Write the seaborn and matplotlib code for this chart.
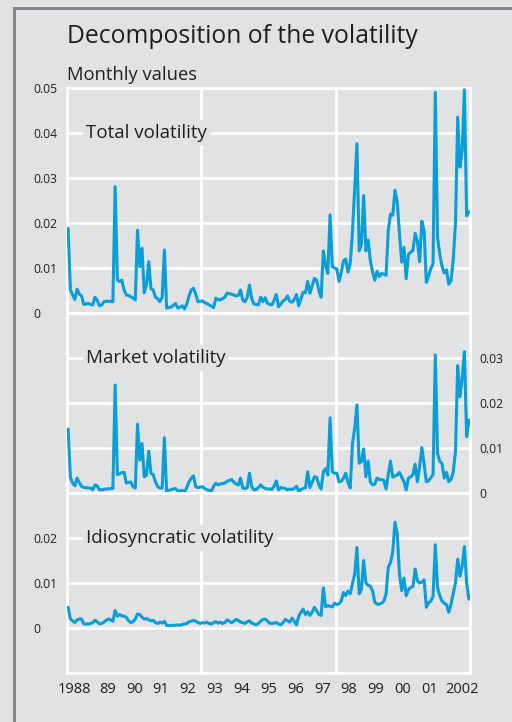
import numpy as np
import pandas as pd
import matplotlib.pyplot as plt
import seaborn as sns
from matplotlib.patches import Rectangle
from matplotlib.ticker import MultipleLocator

# monthly values Jan 1988 - Dec 2002, in units of 0.001 (one row per year)
total_vol = [
    18.8, 5.2, 4.0, 3.0, 5.3, 4.2, 3.8, 1.9, 2.0, 2.1, 1.9, 1.8,
    3.5, 2.8, 1.6, 1.8, 2.5, 2.6, 2.6, 2.6, 2.5, 28.1, 7.3, 7.0,
    7.3, 5.1, 4.0, 3.9, 3.6, 3.3, 2.9, 18.4, 10.3, 14.4, 4.5, 6.2,
    11.4, 5.4, 5.1, 3.5, 3.2, 2.5, 3.5, 14.0, 1.1, 1.2, 1.3, 1.7,
    2.1, 1.1, 1.3, 1.6, 0.9, 2.0, 3.8, 5.1, 5.5, 4.2, 2.5, 2.6,
    2.7, 2.3, 2.1, 1.8, 1.5, 1.2, 3.3, 3.0, 2.9, 3.2, 3.5, 4.4,
    4.3, 4.2, 4.0, 3.8, 3.9, 5.1, 2.9, 2.5, 3.5, 6.2, 3.2, 2.0,
    1.9, 1.8, 3.5, 2.5, 3.4, 2.2, 1.9, 1.8, 2.8, 4.1, 1.4, 2.0,
    2.7, 3.0, 3.8, 2.6, 2.4, 3.0, 4.1, 1.6, 3.2, 4.6, 4.5, 7.0,
    4.4, 6.0, 7.7, 7.3, 5.0, 3.5, 13.8, 10.5, 8.8, 21.8, 10.3, 10.0,
    9.8, 7.0, 9.0, 11.6, 12.0, 9.1, 11.0, 18.0, 28.0, 37.6, 13.8, 15.3,
    26.1, 13.8, 16.2, 11.6, 9.1, 7.3, 9.3, 8.1, 8.8, 8.6, 8.4, 18.3,
    22.0, 21.7, 27.3, 24.7, 17.6, 11.3, 14.6, 7.6, 13.0, 13.5, 13.9, 17.7,
    16.0, 11.4, 20.4, 18.3, 6.8, 8.3, 9.8, 11.0, 49.0, 16.8, 13.0, 10.4,
    8.9, 9.6, 6.4, 7.1, 11.8, 19.8, 43.5, 32.4, 36.1, 49.6, 21.6, 22.5,
]
market_vol = [
    14.2, 3.5, 2.2, 1.6, 3.3, 2.3, 1.5, 1.2, 1.2, 1.1, 1.1, 0.7,
    1.8, 1.6, 0.7, 0.7, 0.8, 0.9, 0.9, 1.0, 1.0, 24.0, 4.1, 4.3,
    4.5, 4.6, 2.2, 2.4, 2.4, 1.4, 1.1, 15.3, 7.3, 11.0, 3.6, 4.0,
    9.3, 4.4, 4.1, 2.5, 1.4, 1.1, 1.1, 12.3, 0.3, 0.6, 0.7, 0.9,
    1.0, 0.4, 0.5, 0.6, 0.2, 1.2, 2.5, 3.3, 3.8, 1.4, 1.2, 1.3,
    1.4, 1.0, 0.7, 0.6, 0.4, 1.5, 2.2, 1.8, 2.0, 2.1, 2.2, 2.6,
    2.8, 3.0, 2.4, 2.0, 1.8, 3.3, 1.1, 1.0, 1.2, 4.4, 1.4, 0.7,
    0.8, 1.2, 1.8, 1.3, 1.0, 0.9, 0.9, 0.8, 1.5, 2.7, 0.7, 1.2,
    1.1, 1.0, 0.7, 0.9, 0.8, 1.0, 1.5, 0.4, 0.8, 1.0, 1.2, 4.7,
    1.2, 2.4, 3.6, 3.5, 1.8, 0.9, 4.7, 5.4, 4.0, 16.7, 4.7, 4.4,
    4.4, 2.5, 2.6, 3.3, 4.4, 2.4, 1.1, 11.0, 14.4, 19.6, 6.6, 7.0,
    9.8, 3.6, 7.1, 2.4, 1.8, 2.0, 3.3, 3.0, 3.0, 2.8, 0.9, 4.1,
    7.1, 3.5, 3.8, 4.0, 4.6, 3.5, 2.5, 0.7, 3.3, 3.6, 4.1, 6.4,
    2.5, 5.9, 10.1, 6.5, 2.5, 2.7, 3.4, 4.1, 30.7, 8.8, 7.0, 6.6,
    3.3, 4.6, 2.5, 3.0, 4.6, 9.1, 28.3, 21.4, 25.5, 31.4, 12.5, 16.2,
]
idio_vol = [
    4.6, 2.0, 1.6, 1.2, 1.8, 2.0, 2.0, 0.9, 0.9, 0.9, 1.0, 1.2,
    1.7, 1.4, 0.9, 1.0, 1.3, 1.7, 2.0, 1.8, 1.5, 3.9, 2.6, 3.0,
    2.7, 2.6, 2.4, 1.6, 1.2, 1.4, 2.0, 3.1, 3.0, 2.4, 2.0, 2.1,
    1.8, 1.6, 1.7, 1.2, 1.0, 1.3, 1.1, 1.5, 0.6, 0.5, 0.6, 0.6,
    0.6, 0.7, 0.6, 0.8, 0.9, 1.0, 1.4, 1.5, 1.7, 1.5, 1.2, 1.0,
    1.2, 1.1, 1.3, 1.0, 0.9, 1.2, 1.4, 1.1, 1.3, 1.0, 1.2, 1.8,
    1.5, 1.2, 1.5, 1.9, 1.7, 1.3, 1.2, 1.0, 1.4, 1.6, 1.1, 0.9,
    0.7, 1.0, 1.5, 1.9, 2.0, 1.6, 1.1, 1.0, 1.1, 1.2, 0.9, 0.7,
    1.2, 1.9, 1.6, 1.3, 2.2, 1.5, 0.7, 2.6, 3.5, 4.2, 3.0, 3.6,
    2.8, 3.5, 4.6, 3.8, 3.0, 2.8, 8.9, 4.7, 5.0, 4.8, 4.7, 5.5,
    5.2, 5.4, 6.0, 7.9, 7.2, 8.2, 7.6, 9.8, 12.0, 17.9, 7.6, 8.6,
    15.0, 10.0, 9.5, 9.3, 8.2, 5.7, 5.3, 5.3, 5.5, 6.0, 7.5, 13.5,
    14.5, 17.0, 23.5, 21.0, 12.0, 8.3, 11.1, 7.2, 8.5, 9.0, 9.2, 13.1,
    10.5, 10.0, 10.2, 10.7, 4.6, 5.6, 6.0, 7.0, 18.5, 9.0, 7.2, 6.0,
    5.5, 5.2, 3.5, 5.2, 7.6, 10.0, 15.3, 11.5, 13.8, 18.1, 10.0, 6.4,
]

year_labels = ["1988", "89", "90", "91", "92", "93", "94", "95",
               "96", "97", "98", "99", "00", "01", "2002"]
# label positions: mid-year, the two four-digit ones pulled to the edges
year_label_pos = [1988.28] + [y + 0.5 for y in range(1989, 2002)] + [2002.7]
top_ticks = [0, 0.01, 0.02, 0.03, 0.04, 0.05]
top_labels = ["0", "0.01", "0.02", "0.03", "0.04", "0.05"]
mid_ticks = [0, 0.01, 0.02, 0.03]
mid_labels = ["0", "0.01", "0.02", "0.03"]
bot_ticks = [0, 0.01, 0.02]
bot_labels = ["0", "0.01", "0.02"]

months = pd.date_range("1988-01-01", periods=len(total_vol), freq="MS")
df = pd.DataFrame({
    "t": months.year + (months.month - 0.5) / 12,
    "total": np.array(total_vol) / 1000,
    "market": np.array(market_vol) / 1000,
    "idio": np.array(idio_vol) / 1000,
})

bg = "#e1e2e4"
blue = "#0a9ed9"
ink = "#1f1f1f"
frame = "#86878a"

sns.set_style("white", {"axes.facecolor": bg, "figure.facecolor": bg})
plt.rcParams["font.family"] = ["Open Sans", "DejaVu Sans"]

fig = plt.figure(figsize=(5.12, 7.22), dpi=100)
gs = fig.add_gridspec(3, 1, height_ratios=[5, 4, 4], hspace=0,
                      left=67 / 512, right=470 / 512,
                      top=1 - 88 / 722, bottom=1 - 673 / 722)
axes = [fig.add_subplot(gs[i]) for i in range(3)]

panels = [
    ("total", "Total volatility", (0, 0.05), top_ticks, top_labels, "left", 0.04),
    ("market", "Market volatility", (0, 0.04), mid_ticks, mid_labels, "right", 0.03),
    ("idio", "Idiosyncratic volatility", (-0.01, 0.03), bot_ticks, bot_labels, "left", 0.02),
]

for ax, (col, name, ylim, ticks, labels, side, label_y) in zip(axes, panels):
    sns.lineplot(data=df, x="t", y=col, ax=ax, color=blue, linewidth=2.2, zorder=3)
    ax.set_xlim(1988, 2003)
    ax.set_ylim(*ylim)
    ax.set_xlabel("")
    ax.set_ylabel("")
    ax.set_yticks(ticks)
    ax.set_yticklabels(labels, color=ink, fontsize=8.7)
    ax.yaxis.grid(True, color="white", linewidth=2.0)
    ax.set_axisbelow(True)
    for x in (1993, 1998):
        ax.axvline(x, color="white", linewidth=2.0, zorder=1)
    for s in ax.spines.values():
        s.set_color("white")
        s.set_linewidth(2.0)
        s.set_visible(True)
    if side == "right":
        ax.yaxis.tick_right()
        ax.tick_params(axis="y", length=0, pad=6.5)
    else:
        ax.tick_params(axis="y", length=0, pad=24.5)
        for lab in ax.get_yticklabels():
            lab.set_horizontalalignment("left")
    ax.text(1988.71, label_y, name, fontsize=13.5, color=ink, va="center", ha="left",
            zorder=4, bbox=dict(facecolor=bg, edgecolor="none", pad=2.5))

for ax in axes[:2]:
    ax.tick_params(axis="x", length=0, labelbottom=False)

ax = axes[2]
ax.xaxis.set_major_locator(MultipleLocator(1))
ax.xaxis.set_minor_locator(MultipleLocator(0.25))
ax.tick_params(axis="x", which="major", direction="inout", length=16, width=1.6,
               color="white", labelbottom=False)
ax.tick_params(axis="x", which="minor", direction="in", length=7, width=1.3,
               color="white")
sec = ax.secondary_xaxis("bottom")
sec.set_xticks(year_label_pos, year_labels)
sec.tick_params(length=0, pad=6.5, labelsize=10.5, labelcolor=ink)
sec.spines["bottom"].set_visible(False)

fig.text(67 / 512, 1 - 43 / 722, "Decomposition of the volatility", fontsize=17.8,
         color=ink, ha="left", va="baseline")
fig.text(67 / 512, 1 - 80 / 722, "Monthly values", fontsize=13.2,
         color=ink, ha="left", va="baseline")

# grey frame on the left and top edge, drawn as two thin filled bars
for xy, w, h in [((13 / 512, 0.0), 3 / 512, 1 - 7 / 722),
                 ((13 / 512, 1 - 10 / 722), 1 - 13 / 512, 3 / 722)]:
    fig.add_artist(Rectangle(xy, w, h, facecolor=frame, edgecolor="none",
                             linewidth=0, transform=fig.transFigure))

fig.savefig("out.png", dpi=100, facecolor=bg)
